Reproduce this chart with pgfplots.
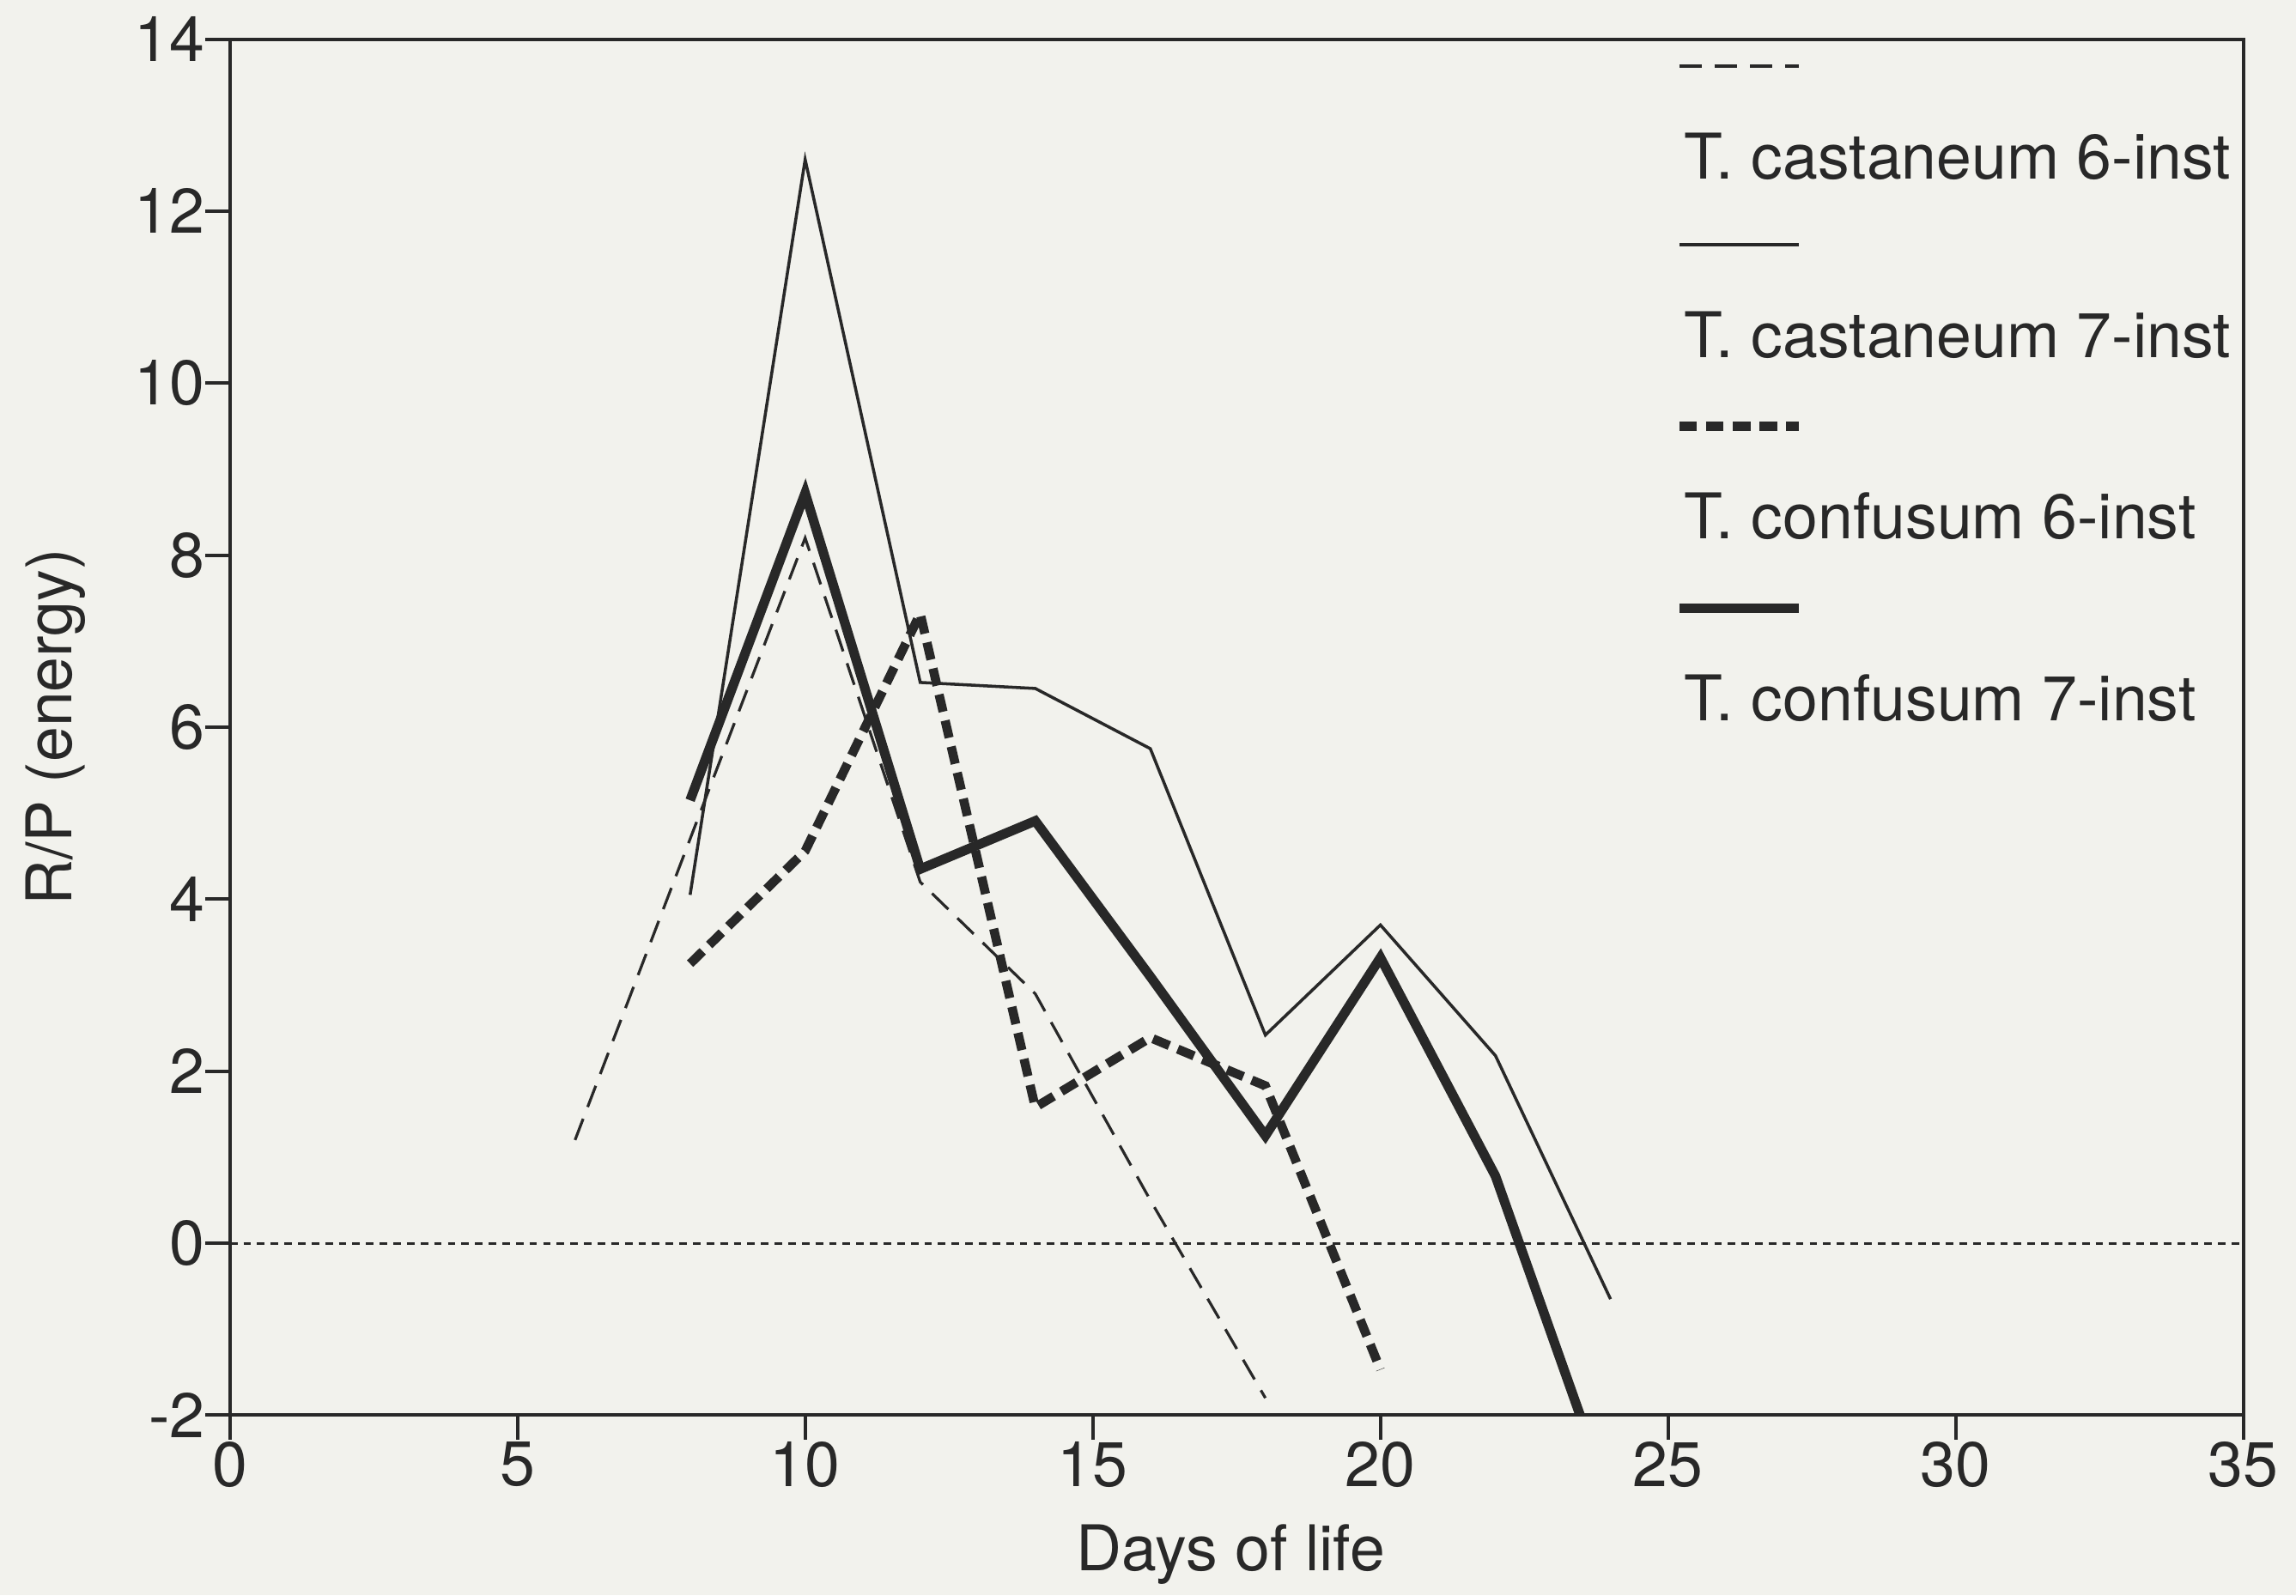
\documentclass[border=0pt]{standalone}
\usepackage{pgfplots}
\pgfplotsset{compat=1.18}
\usepackage{fontspec}
\setmainfont{TeX Gyre Heros}
\usetikzlibrary{backgrounds}

\definecolor{paper}{RGB}{242,242,237}
\definecolor{ink}{RGB}{40,40,40}

% R/P ratio (energy) per day of larval life
\pgfplotstableread{
day rp
6   1.2
8   4.7
10  8.2
12  4.2
14  2.9
16  0.5
18  -1.8
}\castsix
\pgfplotstableread{
day rp
8   4.05
10  12.6
12  6.52
14  6.45
16  5.75
18  2.42
20  3.7
22  2.18
24  -0.65
}\castseven
\pgfplotstableread{
day rp
8   3.25
10  4.56
12  7.32
14  1.58
16  2.39
18  1.83
20  -1.47
}\confsix
\pgfplotstableread{
day rp
8   5.15
10  8.72
12  4.35
14  4.91
16  3.1
18  1.25
20  3.32
22  0.78
24  -3.0
}\confseven

\begin{document}
\begin{tikzpicture}[show background rectangle, inner frame sep=0pt,
  background rectangle/.style={fill=paper, draw=none}]
\begin{axis}[
  scale only axis,
  width=14.03cm, height=9.59cm,
  xmin=0, xmax=35, ymin=-2, ymax=14,
  xtick={0,5,...,35}, ytick={-2,0,...,14},
  tick align=outside, tick pos=left,
  major tick length=0.17cm,
  axis line style={ink, line width=0.7pt},
  every tick/.style={ink, line width=0.7pt},
  /pgf/number format/assume math mode=true,
  tick label style={ink, font=\fontsize{12.5}{15}\selectfont},
  xticklabel style={yshift=0.11cm},
  yticklabel style={xshift=0.12cm},
  xlabel={Days of life}, ylabel={R/P (energy)},
  every axis x label/.style={at={(axis description cs:0.497,-0.101)}, anchor=center,
    inner sep=0pt, text=ink, font=\fontsize{12.5}{15}\selectfont},
  every axis y label/.style={at={(axis description cs:-0.0865,0.5)}, rotate=90, anchor=center,
    inner sep=0pt, text=ink, font=\fontsize{12.5}{15}\selectfont},
  legend style={at={(axis description cs:0.717,0.98)}, anchor=north west,
    draw=none, fill=none, inner sep=0pt, row sep=0.47cm,
    font=\fontsize{12.5}{15}\selectfont, text=ink,
    nodes={inner sep=0pt, text height=0.33cm, text depth=0pt}},
  legend cell align=left,
  legend image code/.code={\path (0,0); \draw[#1, overlay] (0cm,0.62cm) -- (0.83cm,0.62cm);},
]
\addplot[ink, line width=0.5pt, dash pattern=on 1.5pt off 1.2pt, forget plot] coordinates {(0,0) (35,0)};

\addplot[ink, line width=0.55pt, dash pattern=on 4.5pt off 2.5pt] table[x=day, y=rp] {\castsix};
\addlegendentry{T. castaneum 6-inst}
\addplot[ink, line width=0.6pt] table[x=day, y=rp] {\castseven};
\addlegendentry{T. castaneum 7-inst}
\addplot[ink, line width=1.8pt, dash pattern=on 3.5pt off 1.8pt] table[x=day, y=rp] {\confsix};
\addlegendentry{T. confusum 6-inst}
\addplot[ink, line width=1.9pt] table[x=day, y=rp] {\confseven};
\addlegendentry{T. confusum 7-inst}
\end{axis}
\path ([shift={(-1.602cm,-1.255cm)}]current axis.south west) rectangle ([shift={(0.367cm,0.255cm)}]current axis.north east);
\end{tikzpicture}
\end{document}
